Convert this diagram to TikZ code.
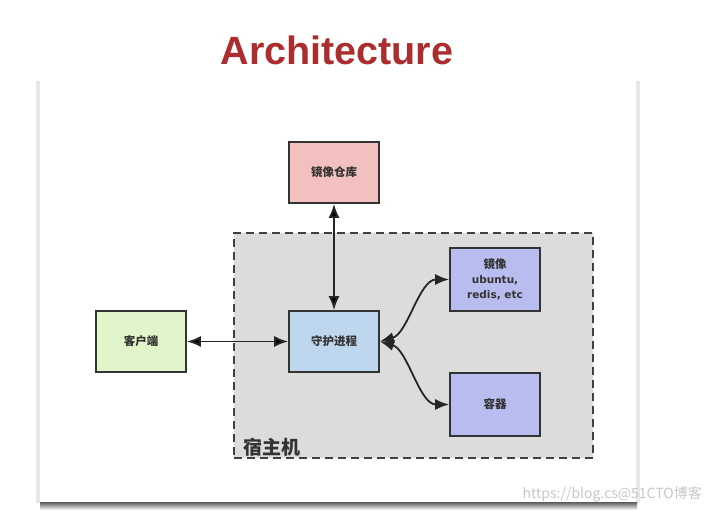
\documentclass[tikz,border=0pt]{standalone}
\usepackage{fontspec}
\setmainfont{Liberation Sans}
\newfontfamily\cjk{Noto Sans CJK SC}
\newfontfamily\dejavu{DejaVu Sans}
\usepackage{xcolor}
\usetikzlibrary{arrows.meta,positioning}
\definecolor{titlered}{RGB}{172,45,45}
\definecolor{repopink}{RGB}{242,192,190}
\definecolor{clientgreen}{RGB}{225,245,202}
\definecolor{daemonblue}{RGB}{190,214,238}
\definecolor{imgviolet}{RGB}{184,188,238}
\definecolor{hostgray}{RGB}{220,220,220}

\begin{document}
\begin{tikzpicture}[x=1pt, y=-1pt, >={Latex[length=14pt,width=11pt]}, line width=1.8pt,
        box node/.style={rectangle, draw=black!80, line width=1.8pt, minimum width=90pt,
            minimum height=61pt, inner sep=2pt, text=black!80, align=center,
            font=\cjk\bfseries\fontsize{11.5}{15}\selectfont},
        host node/.style={rectangle, draw=black!75, fill=hostgray, dashed,
            dash pattern=on 8pt off 5pt, line width=2.2pt, minimum width=359pt, minimum height=225pt}]
    \useasboundingbox (0,0) rectangle (714,512);
    % slide
    \fill[black!9] (36,81) rectangle (640,503);
    \fill[white] (40,81) rectangle (636,502);
    \shade[top color=black!65, bottom color=white] (40,502) rectangle (637,510);
    \node[font=\bfseries\fontsize{39.5}{40}\selectfont, text=titlered] (title) at (337,50) {Architecture};

    % host
    \node[host node] (host) at (413.5,345.5) {};
    \node[anchor=south west, inner sep=0pt, font=\cjk\bfseries\fontsize{19}{19}\selectfont, text=black!80]
        (hostlabel) at (243,457) {宿主机};

    \node[box node, fill=repopink] (repo) at (334,172.5) {镜像仓库};
    \node[box node, fill=clientgreen] (client) at (141,341.5) {客户端};
    \node[box node, fill=daemonblue] (daemon) at (334,341.5) {守护进程};
    \node[box node, fill=imgviolet, minimum height=63pt] (image) at (495,279.5)
        {镜像\\{\dejavu\bfseries\fontsize{10.5}{15}\selectfont ubuntu,}\\{\dejavu\bfseries\fontsize{10.5}{15}\selectfont redis, etc}};
    \node[box node, fill=imgviolet, minimum height=63pt] (container) at (495,404.5) {容器};

    \path[<->, draw=black!85]
        (client) edge (daemon)
        (repo) edge (daemon);
    \draw[<->, black!85] (daemon.east) .. controls +(28,-8) and +(-30,0) .. (image.west);
    \draw[<->, black!85] (daemon.east) .. controls +(28,8) and +(-30,0) .. (container.west);

    \node[anchor=east, text=black!22, font=\cjk\fontsize{14}{14}\selectfont] (mark) at (706,494)
        {https://blog.cs@51CTO博客};
\end{tikzpicture}
\end{document}
